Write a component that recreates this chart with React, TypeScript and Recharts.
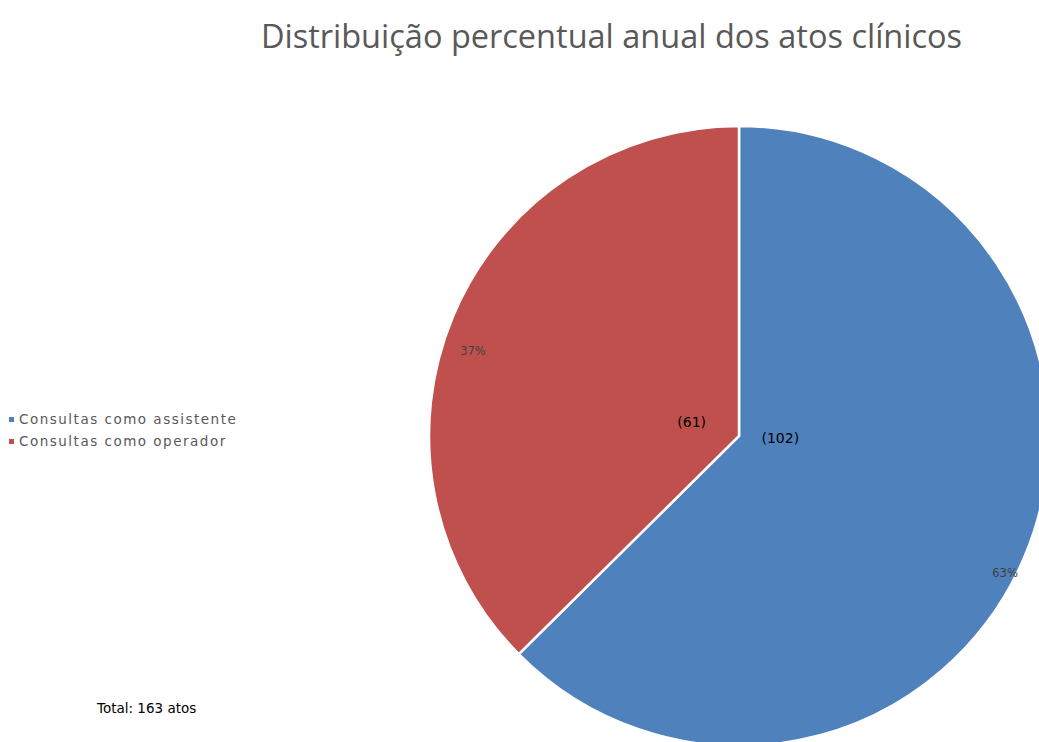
import { PieChart, Pie, Cell } from 'recharts';

const categories = ['Consultas como assistente', 'Consultas como operador'];
const counts = [102, 61];
const percents = ['63%', '37%'];
const sliceColors = ['#4F81BD', '#C0504D'];
const totalLabel = 'Total: 163 atos';
const title = 'Distribuição percentual anual dos atos clínicos';

const data = categories.map((name, i) => ({ name, value: counts[i], pct: percents[i] }));

const RAD = Math.PI / 180;

// percentage near the rim + count near the center
const renderLabel = (props: any) => {
    const { cx, cy, midAngle, outerRadius, index } = props;
    const cos = Math.cos(-midAngle * RAD);
    const sin = Math.sin(-midAngle * RAD);
    const r1 = outerRadius * 0.93;
    const px = cx + r1 * cos;
    const py = cy + r1 * sin + 26;
    const vx = cx + 48 * cos - 3;
    const vy = cy + 20 * sin - 6;
    return (
        <g key={`lbl-${index}`}>
            <text x={px} y={py} fill="#404040" fontSize={11.5} textAnchor="middle" dominantBaseline="central" fontFamily="DejaVu Sans">
                {data[index].pct}
            </text>
            <text x={vx} y={vy} fill="#000" fontSize={14} textAnchor="middle" dominantBaseline="central" fontFamily="DejaVu Sans">
                ({data[index].value})
            </text>
        </g>
    );
};

export default function App() {
    return (
        <div style={{ position: 'absolute', left: 0, top: 0, width: 1039, height: 742, background: '#fff', overflow: 'hidden' }}>
            <div style={{ position: 'absolute', left: 0, width: 1039, top: 13, paddingLeft: 184, boxSizing: 'border-box', textAlign: 'center', fontFamily: 'Open Sans', fontSize: 32.5, color: '#595959' }}>
                {title}
            </div>
            <div style={{ position: 'absolute', left: 0, top: 0 }}>
                <PieChart width={1039} height={742} margin={{ top: 0, right: 0, bottom: 0, left: 0 }}>
                    <Pie
                        data={data}
                        dataKey="value"
                        nameKey="name"
                        cx={739}
                        cy={436}
                        outerRadius={310}
                        startAngle={90}
                        endAngle={-270}
                        stroke="#fff"
                        strokeWidth={2.5}
                        labelLine={false}
                        label={renderLabel}
                        isAnimationActive={false}
                    >
                        {data.map((_, i) => (
                            <Cell key={`cell-${i}`} fill={sliceColors[i]} />
                        ))}
                    </Pie>
                </PieChart>
            </div>
            <div style={{ position: 'absolute', left: 9, top: 408, fontFamily: 'DejaVu Sans', fontSize: 13.5, letterSpacing: 1.5, color: '#595959' }}>
                {data.map((d, i) => (
                    <div key={d.name} style={{ display: 'flex', alignItems: 'center', height: 22 }}>
                        <span style={{ width: 5, height: 5, background: sliceColors[i], marginRight: 5, display: 'inline-block' }} />
                        {d.name}
                    </div>
                ))}
            </div>
            <div style={{ position: 'absolute', left: 97, top: 700, fontFamily: 'DejaVu Sans', fontSize: 13.5, color: '#000' }}>
                {totalLabel}
            </div>
        </div>
    );
}
